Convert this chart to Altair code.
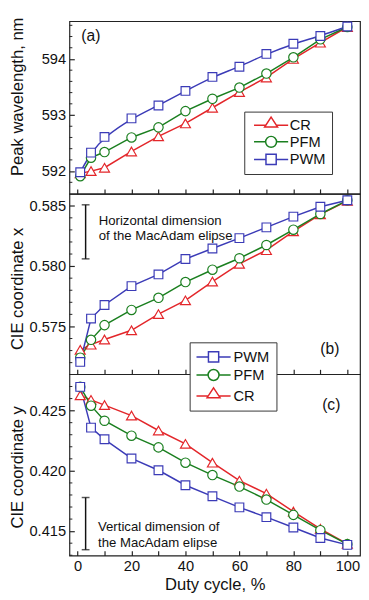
import altair as alt
import pandas as pd

# ---------------- data ----------------
duty = [1, 5, 10, 20, 30, 40, 50, 60, 70, 80, 90, 100]
series_names = ["CR", "PFM", "PWM"]
series_colors = ["#e3262a", "#1a7f1f", "#3b3bb7"]

peak_cr = [591.96, 592.00, 592.06, 592.35, 592.62, 592.85, 593.13, 593.41, 593.67, 594.00, 594.29, 594.57]
peak_pfm = [591.91, 592.24, 592.34, 592.60, 592.78, 593.07, 593.29, 593.49, 593.74, 594.03, 594.35, 594.57]
peak_pwm = [591.98, 592.33, 592.61, 592.94, 593.17, 593.43, 593.68, 593.86, 594.09, 594.27, 594.41, 594.58]

cie_x_cr = [0.57306, 0.57349, 0.57392, 0.57468, 0.57602, 0.57716, 0.57872, 0.58019, 0.58132, 0.58288, 0.58429, 0.58540]
cie_x_pfm = [0.57241, 0.57389, 0.57511, 0.57637, 0.57737, 0.57868, 0.57970, 0.58065, 0.58175, 0.58302, 0.58432, 0.58545]
cie_x_pwm = [0.57206, 0.57565, 0.57678, 0.57834, 0.57931, 0.58059, 0.58146, 0.58232, 0.58321, 0.58410, 0.58492, 0.58546]

cie_y_cr = [0.42627, 0.42589, 0.42546, 0.42459, 0.42335, 0.42224, 0.42068, 0.41919, 0.41811, 0.41662, 0.41519, 0.41394]
cie_y_pfm = [0.42697, 0.42541, 0.42416, 0.42292, 0.42195, 0.42068, 0.41965, 0.41870, 0.41762, 0.41635, 0.41508, 0.41392]
cie_y_pwm = [0.42697, 0.42359, 0.42262, 0.42103, 0.42005, 0.41881, 0.41789, 0.41697, 0.41616, 0.41530, 0.41443, 0.41386]

# MacAdam ellipse dimensions (drawn as bars)
macadam_duty = [3]
macadam_x_lo = [0.58060]
macadam_x_hi = [0.58508]
macadam_y_lo = [0.41346]
macadam_y_hi = [0.41779]

# tick values
x_ticks = [0, 10, 20, 30, 40, 50, 60, 70, 80, 90, 100]
ticks_a = [592, 593, 594]
minor_a = [591.8, 592.2, 592.4, 592.6, 592.8, 593.2, 593.4, 593.6, 593.8, 594.2, 594.4, 594.6]
ticks_b = [0.575, 0.580, 0.585]
minor_b = [0.572, 0.573, 0.574, 0.576, 0.577, 0.578, 0.579, 0.581, 0.582, 0.583, 0.584]
ticks_c = [0.415, 0.420, 0.425]
minor_c = [0.413, 0.414, 0.416, 0.417, 0.418, 0.419, 0.421, 0.422, 0.423, 0.424, 0.426, 0.427]

FONT = "Liberation Sans"
INK = "#111111"
W = 298

legend_paths = {
    "PWM": "M-2.5,0L-0.75,0M0.75,0L2.5,0M-0.75,-0.75L0.75,-0.75L0.75,0.75L-0.75,0.75Z",
    "PFM": "M-2.5,0H-0.8M0.8,0H2.5M-0.8,0A0.8,0.8,0,1,0,0.8,0A0.8,0.8,0,1,0,-0.8,0Z",
    "CR": "M-2.5,0H-0.78M0.78,0H2.5M0,-1.2L0.95,0.25H-0.95Z",
}
color_map = dict(zip(series_names, series_colors))


def long_df(cr, pfm, pwm):
    rows = []
    for name, vals in zip(series_names, [cr, pfm, pwm]):
        for d, v in zip(duty, vals):
            rows.append({"duty": d, "value": v, "series": name})
    return pd.DataFrame(rows)


x_scale = alt.Scale(domain=[-3.0, 104.7], nice=False, zero=False)

x_axis_plain = alt.Axis(values=x_ticks, labels=False, title=None, domain=False,
                        offset=-5, tickSize=5, grid=False)
x_axis_main = alt.Axis(values=x_ticks, labelExpr="datum.value % 20 == 0 ? datum.label : ''",
                       title="Duty cycle, %", domain=False, offset=-5, tickSize=5,
                       labelPadding=3, titlePadding=4, grid=False)


def y_axis(vals, title, fmt, title_y):
    return alt.Axis(values=vals, format=fmt, title=title, domain=False, offset=-5,
                    tickSize=5, labelPadding=4, titleX=-49, titleY=title_y, grid=False)


one = pd.DataFrame({"k": [0]})


def make_panel(df, y_scale, yax, height, xax, minor_vals, pwm_basis=False,
               legend_order=None, legend_kw=None, extras=()):
    x = alt.X("duty:Q", scale=x_scale, axis=xax)
    y = alt.Y("value:Q", scale=y_scale, axis=yax)
    color = alt.Color("series:N", scale=alt.Scale(domain=series_names, range=series_colors), legend=None)
    base = alt.Chart(df)
    layers = []
    # minor ticks on the left frame
    layers.append(
        alt.Chart(pd.DataFrame({"value": minor_vals})).mark_rule(color="#222", strokeWidth=1)
        .encode(y=y, x=alt.value(0), x2=alt.value(3))
    )
    if pwm_basis:
        layers.append(base.transform_filter("datum.series != 'PWM'").mark_line(strokeWidth=1.5)
                      .encode(x=x, y=y, color=color))
        layers.append(base.transform_filter("datum.series == 'PWM'")
                      .mark_line(strokeWidth=1.5, interpolate="basis")
                      .encode(x=x, y=y, color=color))
    else:
        layers.append(base.mark_line(strokeWidth=1.5).encode(x=x, y=y, color=color))
    layers.append(
        base.mark_point(filled=False, fill="white", strokeWidth=1.2, opacity=1).encode(
            x=x, y=y, color=color,
            shape=alt.Shape("series:N", scale=alt.Scale(domain=series_names,
                                                        range=["triangle-up", "circle", "square"]),
                            legend=None),
            size=alt.Size("series:N", scale=alt.Scale(domain=series_names, range=[105, 80, 72]),
                          legend=None),
        )
    )
    layers.extend(extras)
    if legend_order is not None:
        L = alt.Legend(orient="none", title=None, fillColor="white", strokeColor="#333",
                       symbolSize=196, symbolStrokeWidth=1.5, labelFontSize=15,
                       labelFont=FONT, labelColor=INK, **legend_kw)
        # invisible marks (size 0) that only carry the legend
        layers.append(
            base.mark_point(filled=False, strokeWidth=1.5, opacity=1, size=0).encode(
                x=x, y=y,
                color=alt.Color("series:N", scale=alt.Scale(domain=legend_order,
                                                            range=[color_map[s] for s in legend_order]),
                                legend=L),
                shape=alt.Shape("series:N", scale=alt.Scale(domain=legend_order,
                                                            range=[legend_paths[s] for s in legend_order]),
                                legend=L),
            )
        )
    return alt.layer(*layers).resolve_scale(color="independent", shape="independent").properties(
        width=W, height=height)


def label(txt, px, py):
    return alt.Chart(one).mark_text(text=txt, fontSize=16, font=FONT, align="center",
                                    baseline="middle", color=INK).encode(x=alt.value(px), y=alt.value(py))


def note(lines, px, py):
    return alt.Chart(one).mark_text(text=lines, fontSize=13.5, font=FONT, align="left",
                                    baseline="middle", lineHeight=15.7, color=INK).encode(
        x=alt.value(px), y=alt.value(py))


def macadam(lo, hi, y_scale, yax, xax):
    d = pd.DataFrame({"duty": macadam_duty, "value": lo, "hi": hi})
    return alt.Chart(d).mark_errorbar(ticks={"size": 8}, color=INK, thickness=1.5).encode(
        x=alt.X("duty:Q", scale=x_scale, axis=xax),
        y=alt.Y("value:Q", scale=y_scale, axis=yax),
        y2="hi:Q",
    )


# ---------------- panel (a) ----------------
ys_a = alt.Scale(domain=[591.595, 594.673], nice=False, zero=False)
yax_a = y_axis(ticks_a, "Peak wavelength, nm", "d", 77)
panel_a = make_panel(
    long_df(peak_cr, peak_pfm, peak_pwm), ys_a, yax_a, 177, x_axis_plain, minor_a,
    pwm_basis=True, legend_order=["CR", "PFM", "PWM"],
    legend_kw=dict(legendX=179.3, legendY=92.7, padding=6, rowPadding=0,
                   symbolOffset=13.5, labelOffset=11.2,
                   labelExpr="datum.label + '     '"),
    extras=[label("(a)", 22, 15)],
)

# ---------------- panel (b) ----------------
ys_b = alt.Scale(domain=[0.57104, 0.58599], nice=False, zero=False)
yax_b = y_axis(ticks_b, "CIE coordinate x", ".3f", 97)
panel_b = make_panel(
    long_df(cie_x_cr, cie_x_pfm, cie_x_pwm), ys_b, yax_b, 185, x_axis_plain, minor_b,
    extras=[
        macadam(macadam_x_lo, macadam_x_hi, ys_b, yax_b, x_axis_plain),
        note(["Horizontal dimension", "of the MacAdam elipse"], 30, 27.9),
        label("(b)", 267, 159),
    ],
)

# ---------------- panel (c) ----------------
ys_c = alt.Scale(domain=[0.41297, 0.42802], nice=False, zero=False)
yax_c = y_axis(ticks_c, "CIE coordinate y", ".3f", 95)
panel_c = make_panel(
    long_df(cie_y_cr, cie_y_pfm, cie_y_pwm), ys_c, yax_c, 186, x_axis_main, minor_c,
    legend_order=["PWM", "PFM", "CR"],
    legend_kw=dict(legendX=123.3, legendY=-32.7, padding=7, rowPadding=0.5,
                   symbolOffset=9.5, labelOffset=12.5,
                   labelExpr="datum.label + '    '"),
    extras=[
        macadam(macadam_y_lo, macadam_y_hi, ys_c, yax_c, x_axis_main),
        note(["Vertical dimension of", "the MacAdam elipse"], 29.3, 157),
        label("(c)", 268.5, 31.7),
    ],
)

chart = (
    alt.vconcat(panel_a, panel_b, panel_c, spacing=0, bounds="flush")
    .properties(padding={"left": 0, "top": 1, "right": 0, "bottom": 0})
    .configure_view(stroke="#222", strokeWidth=1.2)
    .configure_axis(labelFont=FONT, titleFont=FONT, labelFontSize=15, titleFontSize=17,
                    titleFontWeight="normal", labelColor=INK, titleColor=INK,
                    tickColor="#222", tickWidth=1.2)
    .configure_text(font=FONT)
)

chart.save("out.html", embed_options={"renderer": "svg", "actions": False})
